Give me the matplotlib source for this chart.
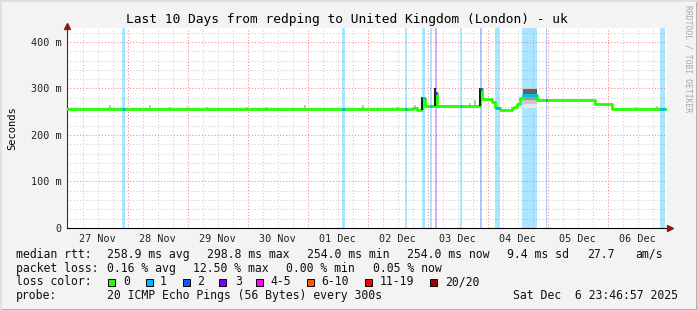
import matplotlib
matplotlib.use('Agg')
import matplotlib.pyplot as plt
from matplotlib.lines import Line2D
from matplotlib.patches import Rectangle
import numpy as np

W, H = 697, 310
MONO = 'DejaVu Sans Mono'

# time axis: days since 27 Nov 00:00, graph ends Sat Dec 6 23:46:57
t_start = -0.009
t_end = 9.991
day_labels = ['27 Nov', '28 Nov', '29 Nov', '30 Nov', '01 Dec',
              '02 Dec', '03 Dec', '04 Dec', '05 Dec', '06 Dec']

# median rtt (ms), step function: value holds from med_t[i] to med_t[i+1]
med_t = [t_start, 5.758, 5.824, 5.903, 5.958, 6.124, 6.153, 6.874, 6.913,
         7.074, 7.124, 7.153, 7.208, 7.403, 7.433, 7.486, 7.541, 7.586,
         7.819, 8.791, 9.069, t_end]
med_v = [255, 257, 254, 279, 262, 291, 262, 298, 277,
         271, 261, 257, 254, 257, 261, 266, 279, 287,
         276, 266, 255, 255]

# packet loss periods (days) and loss class index
loss_t0 = [0.908, 4.575, 5.625, 5.908, 6.041, 6.124, 6.541, 6.874, 7.124, 7.574, 7.974, 9.874]
loss_t1 = [0.958, 4.625, 5.658, 5.958, 6.074, 6.158, 6.574, 6.908, 7.208, 7.824, 7.991, 9.958]
loss_lvl = [1, 1, 1, 1, 1, 3, 1, 2, 1, 1, 2, 1]

loss_names = ['0', '1', '2', '3', '4-5', '6-10', '11-19', '20/20']
loss_colors = ['#22ff00', '#00b4ff', '#0a5aff', '#7a00ff',
               '#ff00ff', '#ff5a00', '#ff0000', '#a00000']

# light smoke specks above the median
speck_t = [0.708, 1.374, 1.708, 1.991, 2.324, 2.991, 3.324, 3.958, 4.924,
           5.508, 5.791, 6.708, 6.791, 9.474, 9.824]
speck_hi = [264, 264, 261, 260, 260, 260, 260, 264, 264,
            260, 264, 268, 275, 260, 262]

# dark spikes (ping spread) at step changes
spike_t = [5.903, 6.124, 6.874]
spike_lo = [254, 262, 262]
spike_hi = [281, 300, 300]

# heavy smoke block on 04 Dec
block_t = [7.586, 7.819]
block_lo = [257, 266, 276, 285]
block_hi = [300, 300, 299, 298]
block_gray = ['#e8e8e8', '#c8c8c8', '#9a9a9a', '#626262']

fig = plt.figure(figsize=(W / 100, H / 100), dpi=100)
fig.patch.set_facecolor('#f3f3f3')
ax = fig.add_axes([67 / W, (H - 228) / H, 600 / W, 200 / H])
ax.set_facecolor('white')
ax.set_xlim(t_start, t_end)
ax.set_ylim(0, 430)


def med_at(t):
    i = np.searchsorted(med_t, t, side='right') - 1
    return med_v[min(max(i, 0), len(med_v) - 1)]


# grid
for d in np.arange(0, 10.01, 0.25):
    if abs(d - round(d)) > 0.01:
        ax.axvline(d, color='#cccccc', lw=0.75, ls=(0, (1, 2)), zorder=1)
for d in range(1, 10):
    ax.axvline(d, color='#ff8080', lw=0.75, ls=(0, (1, 2)), zorder=1)
for v in range(20, 430, 20):
    if v % 100:
        ax.axhline(v, color='#cccccc', lw=0.75, ls=(0, (1, 2)), zorder=1)
for v in range(100, 430, 100):
    ax.axhline(v, color='#ff8080', lw=0.75, ls=(0, (1, 2)), zorder=1)

# loss bars
for a, b, l in zip(loss_t0, loss_t1, loss_lvl):
    ax.axvspan(a, b, color=loss_colors[l], alpha=0.33, lw=0, zorder=2)

# smoke
for t, hi in zip(speck_t, speck_hi):
    ax.bar(t, hi - med_at(t), bottom=med_at(t), width=0.03, color='#c4c4c4', lw=0, zorder=3)
for lo, hi, g in zip(block_lo, block_hi, block_gray):
    ax.fill_between(block_t, lo, hi, color=g, lw=0, zorder=3)
ax.vlines(spike_t, spike_lo, spike_hi, color='black', lw=1.2, zorder=5)

# median line
ax.step(med_t, med_v, where='post', color=loss_colors[0], lw=2, zorder=4)
for a, b, l in zip(loss_t0, loss_t1, loss_lvl):
    m = med_at((a + b) / 2)
    ax.plot([a, b], [m, m], color=loss_colors[l], lw=2, solid_capstyle='butt', zorder=6)

# axes
for s in ['top', 'right']:
    ax.spines[s].set_visible(False)
ax.spines['left'].set_color('#5a2020')
ax.spines['bottom'].set_color('black')
ax.spines['left'].set_linewidth(0.8)
ax.spines['bottom'].set_linewidth(0.8)
ax.plot([t_start], [434], marker='^', color='#8b1a1a', ms=4, clip_on=False, zorder=10)
ax.plot([t_end + 0.05], [0], marker='>', color='#8b1a1a', ms=4, clip_on=False, zorder=10)

ax.set_yticks([0, 100, 200, 300, 400])
ax.set_yticklabels(['0', '100 m', '200 m', '300 m', '400 m'], fontfamily=MONO, fontsize=7.3)
ax.set_xticks(np.arange(10) + 0.5)
ax.set_xticklabels(day_labels, fontfamily=MONO, fontsize=7.3)
ax.tick_params(axis='both', length=0, pad=4, colors='#222222')
ax.set_ylabel('Seconds', fontfamily=MONO, fontsize=7.5, labelpad=10)

fig.text(347 / W, 1 - 20 / H, 'Last 10 Days from redping to United Kingdom (London) - uk',
         ha='center', va='center', fontfamily=MONO, fontsize=9.3)
fig.text(688 / W, 1 - 59 / H, 'RRDTOOL / TOBI OETIKER', rotation=270,
         ha='center', va='center', fontfamily=MONO, fontsize=5.8, color='#a8a8a8')


def ftext(x, y, s):
    fig.text(x / W, 1 - y / H, s, ha='left', va='center', fontfamily=MONO, fontsize=8.3, color='#111111')


ftext(16, 254.3, 'median rtt:')
for x, s in zip([107.3, 207.3, 306.7, 406.7, 506.7, 586.7, 635],
                ['258.9 ms avg', '298.8 ms max', '254.0 ms min', '254.0 ms now',
                 '9.4 ms sd', '27.7', 'am/s']):
    ftext(x, 254.3, s)
ftext(16, 268.3, 'packet loss:')
for x, s in zip([107.3, 193.3, 286, 372.7],
                ['0.16 % avg', '12.50 % max', '0.00 % min', '0.05 % now']):
    ftext(x, 268.3, s)
ftext(16, 281.7, 'loss color:')
box_x = [108.3, 145.7, 182.7, 219.3, 256, 306.7, 365, 430]
lab_x = [123, 160, 197, 235, 270.7, 321.7, 380, 445]
for bx, lx, name, c in zip(box_x, lab_x, loss_names, loss_colors):
    fig.add_artist(Rectangle((bx / W, 1 - 285.5 / H), 7 / W, 7 / H, facecolor=c,
                             edgecolor='black', lw=0.7, transform=fig.transFigure))
    ftext(lx, 281.7, name)
ftext(16, 295.7, 'probe:')
ftext(107.3, 295.7, '20 ICMP Echo Pings (56 Bytes) every 300s')
ftext(513.3, 295.7, 'Sat Dec  6 23:46:57 2025')

# frame
fig.add_artist(Line2D([0, 1], [0.5 / H, 0.5 / H], color='#a8a8a8', lw=2, transform=fig.transFigure))
fig.add_artist(Line2D([1 - 0.5 / W, 1 - 0.5 / W], [0, 1], color='#a8a8a8', lw=2, transform=fig.transFigure))
fig.add_artist(Line2D([0, 1], [1 - 0.5 / H, 1 - 0.5 / H], color='#e0e0e0', lw=1.5, transform=fig.transFigure))
fig.add_artist(Line2D([0.5 / W, 0.5 / W], [0, 1], color='#e0e0e0', lw=1.5, transform=fig.transFigure))

fig.savefig('out.png', dpi=100, facecolor=fig.get_facecolor())
